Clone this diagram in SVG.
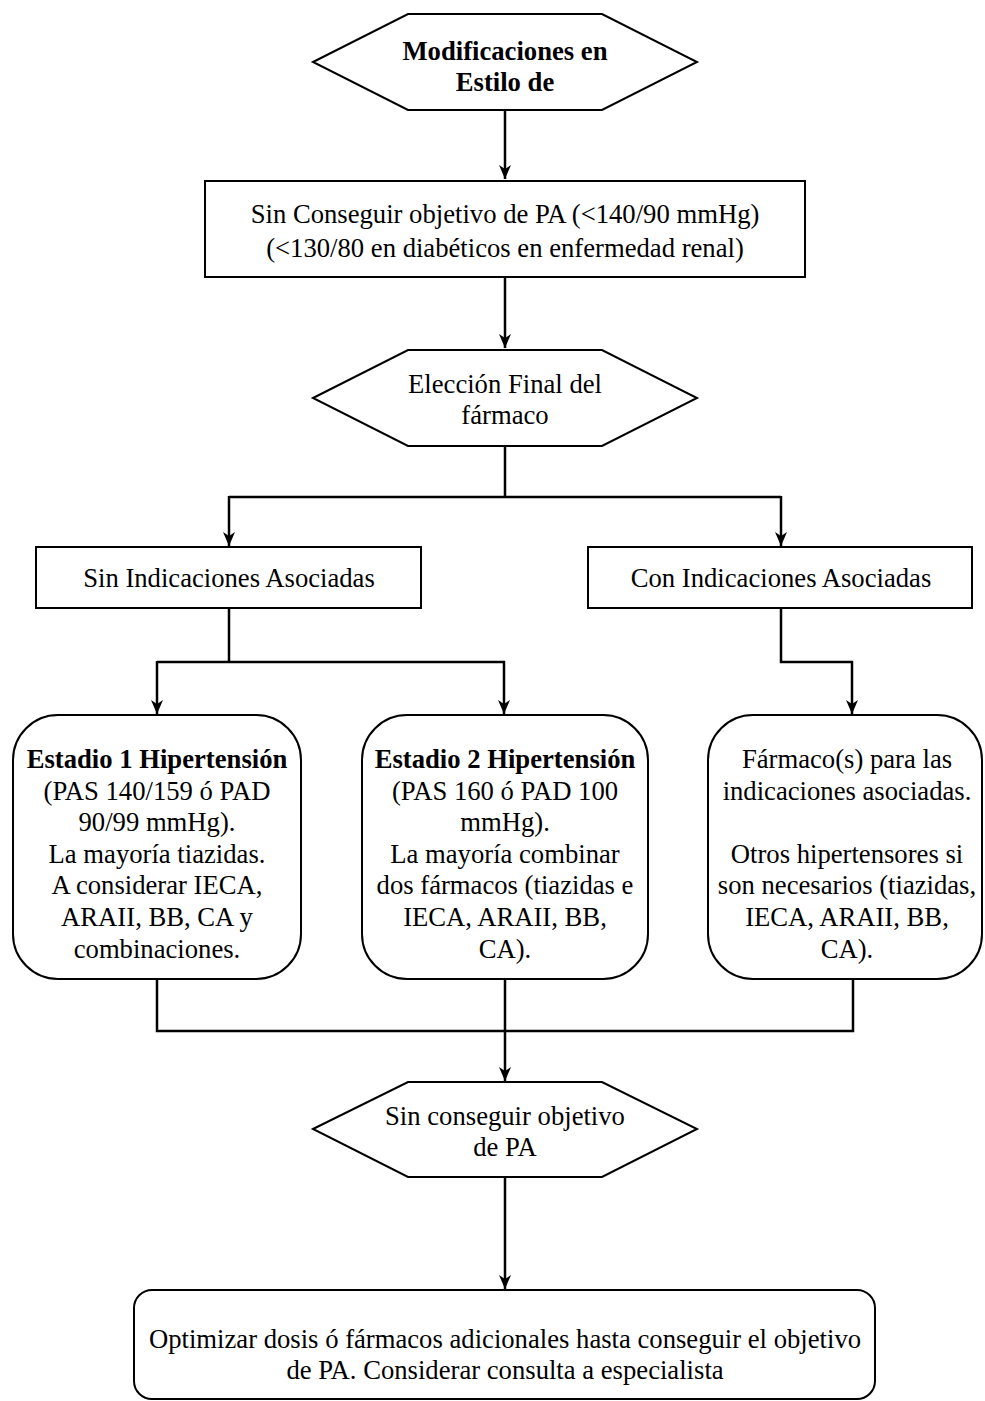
<svg xmlns="http://www.w3.org/2000/svg" width="985" height="1401" viewBox="0 0 985 1401">
<defs>
<marker id="arr" viewBox="-1 -7 16 14" refX="14" refY="0" markerWidth="16" markerHeight="14" markerUnits="userSpaceOnUse" orient="auto">
<path d="M0,-6 L14,0 L0,6 L4,0 Z" fill="#000"/>
</marker>
<style>
.shape{fill:#fff;stroke:#000;stroke-width:2}
.t{font-family:"Liberation Serif","Times New Roman",serif;font-size:26.67px;fill:#000;text-anchor:middle}
.b{font-weight:bold}
.c{fill:none;stroke:#000;stroke-width:2.5}
</style>
</defs>
<rect width="985" height="1401" fill="#fff"/>
<g id="connectors">
<path class="c" d="M505,110 V179" marker-end="url(#arr)"/>
<path class="c" d="M505,277 V348" marker-end="url(#arr)"/>
<path class="c" d="M505,446 V497 M229,497 H781"/>
<path class="c" d="M229,496 V546" marker-end="url(#arr)"/>
<path class="c" d="M781,496 V546" marker-end="url(#arr)"/>
<path class="c" d="M229,608 V662 M157,662 H505"/>
<path class="c" d="M157,661 V714" marker-end="url(#arr)"/>
<path class="c" d="M504,661 V714" marker-end="url(#arr)"/>
<path class="c" d="M781,608 V662 H852 V714" marker-end="url(#arr)"/>
<path class="c" d="M157,979 V1031 H853 V979 M505,979 V1031"/>
<path class="c" d="M505,1030 V1081" marker-end="url(#arr)"/>
<path class="c" d="M505,1177 V1289" marker-end="url(#arr)"/>
</g>
<g id="n1">
<polygon class="shape" points="313,62 408,14 602,14 697,62 602,110 408,110"/>
<text class="t b" x="505" y="60">Modificaciones en</text>
<text class="t b" x="505" y="91">Estilo de</text>
</g>
<g id="n2">
<rect class="shape" x="205" y="181" width="600" height="96"/>
<text class="t" x="505" y="223">Sin Conseguir objetivo de PA (&lt;140/90 mmHg)</text>
<text class="t" x="505" y="257">(&lt;130/80 en diabéticos en enfermedad renal)</text>
</g>
<g id="n3">
<polygon class="shape" points="313,398 408,350 602,350 697,398 602,446 408,446"/>
<text class="t" x="505" y="393">Elección Final del</text>
<text class="t" x="505" y="424">fármaco</text>
</g>
<g id="n4">
<rect class="shape" x="36" y="547" width="385" height="61"/>
<text class="t" x="229" y="587">Sin Indicaciones Asociadas</text>
</g>
<g id="n5">
<rect class="shape" x="588" y="547" width="384" height="61"/>
<text class="t" x="781" y="587">Con Indicaciones Asociadas</text>
</g>
<g id="n6">
<rect class="shape" x="13" y="715" width="288" height="264" rx="45" ry="45"/>
<text class="t b" x="157" y="768">Estadio 1 Hipertensión</text>
<text class="t" x="157" y="799.6">(PAS 140/159 ó PAD</text>
<text class="t" x="157" y="831.2">90/99 mmHg).</text>
<text class="t" x="157" y="862.8">La mayoría tiazidas.</text>
<text class="t" x="157" y="894.4">A considerar IECA,</text>
<text class="t" x="157" y="926">ARAII, BB, CA y</text>
<text class="t" x="157" y="957.6">combinaciones.</text>
</g>
<g id="n7">
<rect class="shape" x="362" y="715" width="286" height="264" rx="45" ry="45"/>
<text class="t b" x="505" y="768">Estadio 2 Hipertensión</text>
<text class="t" x="505" y="799.6">(PAS 160 ó PAD 100</text>
<text class="t" x="505" y="831.2">mmHg).</text>
<text class="t" x="505" y="862.8">La mayoría combinar</text>
<text class="t" x="505" y="894.4">dos fármacos (tiazidas e</text>
<text class="t" x="505" y="926">IECA, ARAII, BB,</text>
<text class="t" x="505" y="957.6">CA).</text>
</g>
<g id="n8">
<rect class="shape" x="708" y="715" width="274" height="264" rx="45" ry="45"/>
<text class="t" x="847" y="768">Fármaco(s) para las</text>
<text class="t" x="847" y="799.6">indicaciones asociadas.</text>
<text class="t" x="847" y="862.8">Otros hipertensores si</text>
<text class="t" x="847" y="894.4">son necesarios (tiazidas,</text>
<text class="t" x="847" y="926">IECA, ARAII, BB,</text>
<text class="t" x="847" y="957.6">CA).</text>
</g>
<g id="n9">
<polygon class="shape" points="313,1129 408,1082 602,1082 697,1129 602,1177 408,1177"/>
<text class="t" x="505" y="1125">Sin conseguir objetivo</text>
<text class="t" x="505" y="1156">de PA</text>
</g>
<g id="n10">
<rect class="shape" x="134" y="1290" width="741" height="109" rx="18" ry="18"/>
<text class="t" x="505" y="1348">Optimizar dosis ó fármacos adicionales hasta conseguir el objetivo</text>
<text class="t" x="505" y="1379">de PA. Considerar consulta a especialista</text>
</g>
</svg>
